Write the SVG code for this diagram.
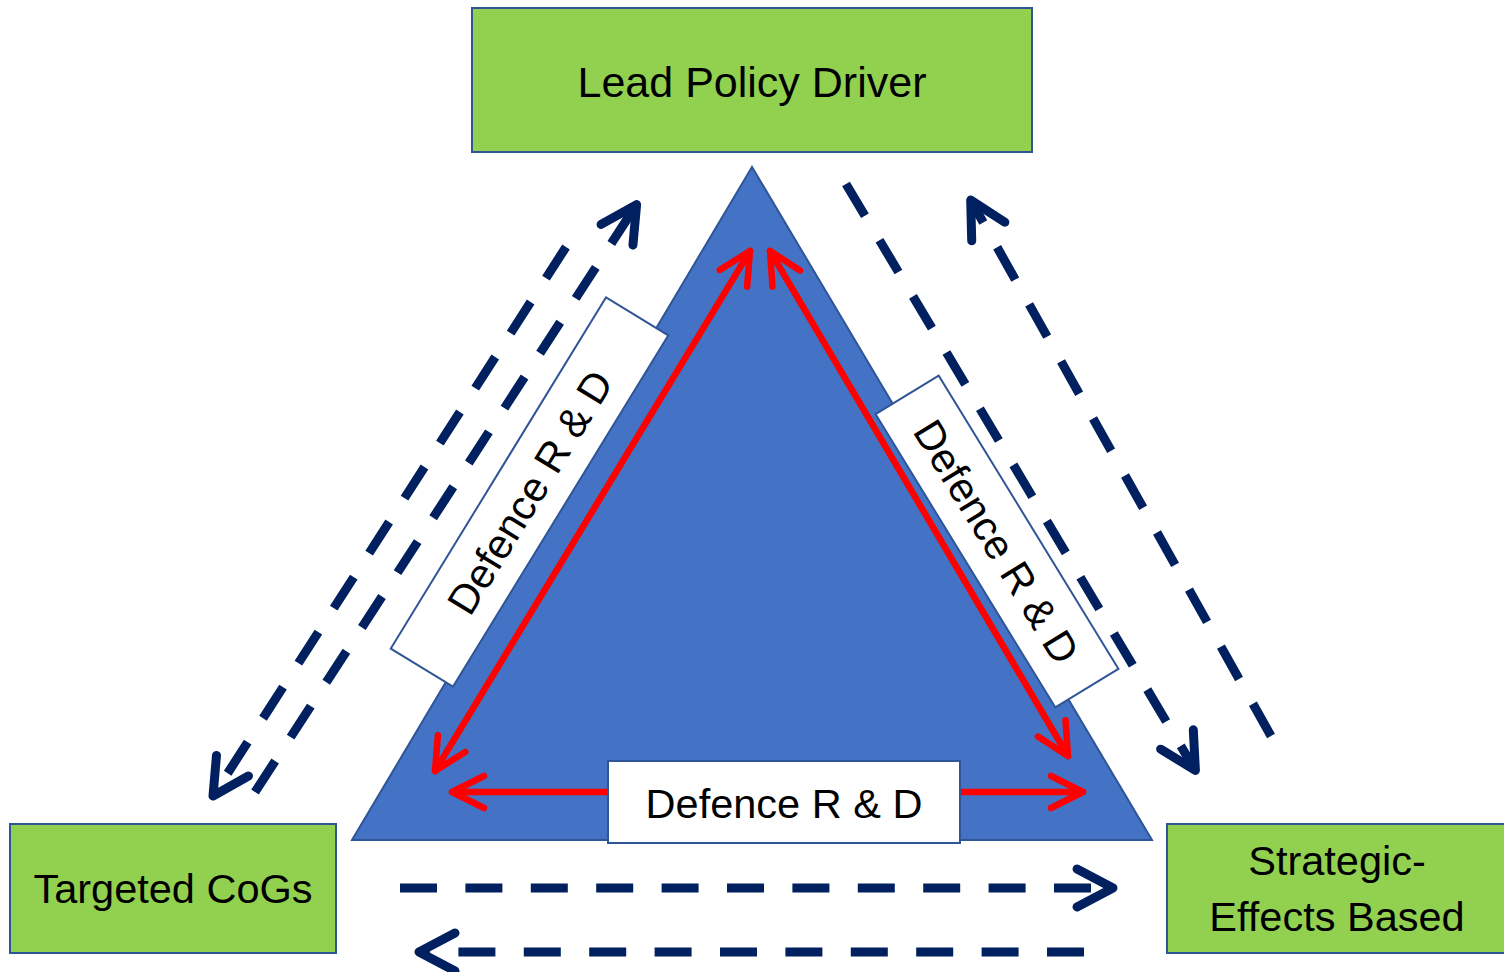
<svg xmlns="http://www.w3.org/2000/svg" width="1504" height="972" viewBox="0 0 1504 972">
  <style>
    .node { fill: #92D050; stroke: #2F5597; stroke-width: 2; }
    .label { fill: #FFFFFF; stroke: #2F5597; stroke-width: 2; }
    .txt { font-family: "Liberation Sans", Arial, sans-serif; font-size: 41.5px; fill: #000000; text-anchor: middle; }
    .red { fill: none; stroke: #FF0000; stroke-width: 6.5; stroke-linecap: round; marker-start: url(#redHead); marker-end: url(#redHead); }
    .dash { fill: none; stroke: #002060; stroke-width: 9; stroke-dasharray: 37 28.4; stroke-linecap: butt; marker-end: url(#navyHead); }
  </style>
  <defs>
    <marker id="redHead" markerUnits="userSpaceOnUse" viewBox="-50 -30 60 60" markerWidth="60" markerHeight="60" refX="0" refY="0" orient="auto-start-reverse" overflow="visible">
      <path d="M -32 -16 L 0 0 L -32 16" fill="none" stroke="#FF0000" stroke-width="6.5" stroke-linecap="round" stroke-linejoin="round"/>
    </marker>
    <marker id="navyHead" markerUnits="userSpaceOnUse" viewBox="-50 -30 60 60" markerWidth="60" markerHeight="60" refX="0" refY="0" orient="auto" overflow="visible">
      <path d="M -36 -19 L 0 0 L -36 19" fill="none" stroke="#002060" stroke-width="9" stroke-dasharray="none" stroke-linecap="round" stroke-linejoin="round"/>
    </marker>
  </defs>
  <rect width="1504" height="972" fill="#FFFFFF"/>

  <g id="triangle">
    <polygon points="752,167 352,840 1152,840" fill="#4472C4" stroke="#2F5597" stroke-width="2"/>
  </g>

  <g id="lead-policy-driver">
    <rect class="node" x="472" y="8" width="560" height="144"/>
    <text class="txt" x="752" y="97" style="font-size:43px">Lead Policy Driver</text>
  </g>
  <g id="targeted-cogs">
    <rect class="node" x="10" y="824" width="326" height="129"/>
    <text class="txt" x="173" y="903">Targeted CoGs</text>
  </g>
  <g id="strategic-effects-based">
    <rect class="node" x="1167" y="824" width="345" height="129"/>
    <text class="txt" x="1337" y="875">Strategic-</text>
    <text class="txt" x="1337" y="931">Effects Based</text>
  </g>

  <g id="connectors">
    <path class="red" d="M 452 792 L 1083 792"/>
    <path class="red" d="M 750 251 L 435 771"/>
    <path class="red" d="M 770 251 L 1068 756"/>
    <path class="dash" d="M 566 247 L 213 796"/>
    <path class="dash" d="M 255 792 L 636.6 204.6"/>
    <path class="dash" d="M 846 184 L 1195.4 770.4"/>
    <path class="dash" d="M 1271 736 L 970.7 200.1"/>
    <path class="dash" d="M 400 888 L 1113 888"/>
    <path class="dash" d="M 1084 952 L 419 952"/>
  </g>

  <g id="label-left">
    <g transform="translate(529.5 492) rotate(-58.5)">
      <rect class="label" x="-206" y="-36.5" width="412" height="73"/>
      <text class="txt" x="0" y="15">Defence R &amp; D</text>
    </g>
  </g>
  <g id="label-right">
    <g transform="translate(997 541.5) rotate(58.5)">
      <rect class="label" x="-172" y="-37" width="344" height="74"/>
      <text class="txt" x="0" y="15">Defence R &amp; D</text>
    </g>
  </g>
  <g id="label-bottom">
    <rect class="label" x="608" y="761" width="352" height="82"/>
    <text class="txt" x="784" y="818">Defence R &amp; D</text>
  </g>
</svg>
